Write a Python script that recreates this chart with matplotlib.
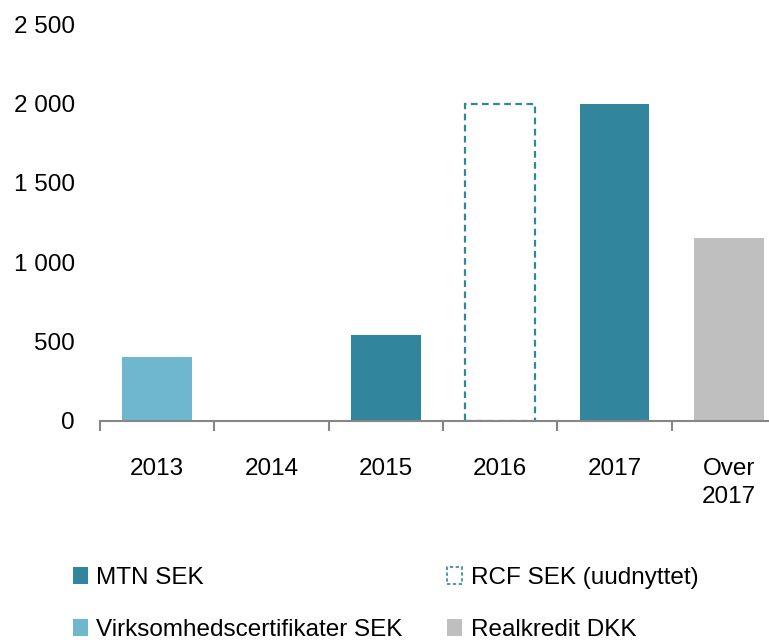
import matplotlib
matplotlib.use("Agg")
import matplotlib.pyplot as plt
from matplotlib.patches import Patch
from matplotlib.ticker import FuncFormatter

# ---------- DATA -----------------------------------------------------------
categories = ["2013", "2014", "2015", "2016", "2017", "Over\n2017"]
mtn_sek = [0, 0, 540, 0, 2000, 0]
rcf_sek = [0, 0, 0, 2000, 0, 0]          # unused facility, drawn as outline
virk_sek = [400, 0, 0, 0, 0, 0]
realkredit_dkk = [0, 0, 0, 0, 0, 1150]
yticks = [0, 500, 1000, 1500, 2000, 2500]

# ---------- STYLE ----------------------------------------------------------
C_MTN = "#31859C"
C_VIRK = "#6FB7CE"
C_REAL = "#BFBFBF"
C_AXIS = "#868686"
FS = 17.5
plt.rcParams["font.family"] = ["Liberation Sans", "DejaVu Sans"]


def nonzero(vals):
    """Only positions with a value, so empty bars leave no outline."""
    xs = [i for i, v in enumerate(vals) if v]
    return xs, [vals[i] for i in xs]


fig = plt.figure(figsize=(7.69, 6.44), dpi=100)
ax = fig.add_axes([100 / 769, 1 - 420.5 / 644, 686 / 769, 396 / 644])

w = 0.61
ax.bar(*nonzero(virk_sek), width=w, color=C_VIRK, zorder=2)
ax.bar(*nonzero(mtn_sek), width=w, color=C_MTN, zorder=2)
ax.bar(*nonzero(realkredit_dkk), width=w, color=C_REAL, zorder=2)
ax.bar(*nonzero(rcf_sek), width=w, facecolor="none", edgecolor=C_MTN,
       linewidth=1.6, linestyle=(0, (3, 2)), zorder=2)

x = list(range(len(categories)))
ax.set_xlim(-0.5, len(categories) - 0.5)
ax.set_ylim(0, 2500)
ax.set_yticks(yticks)
ax.yaxis.set_major_formatter(FuncFormatter(lambda v, p: f"{int(v):,}".replace(",", " ")))
ax.tick_params(axis="y", length=0, pad=18, labelsize=FS)

ax.set_xticks(x)
ax.set_xticklabels(categories, linespacing=1.35)
ax.set_xticks([i - 0.5 for i in range(len(categories) + 1)], minor=True)
ax.tick_params(axis="x", which="major", length=0, pad=27, labelsize=FS)
ax.tick_params(axis="x", which="minor", length=7, width=1.5, color=C_AXIS)

for s in ["left", "right", "top"]:
    ax.spines[s].set_visible(False)
ax.spines["bottom"].set_color(C_AXIS)
ax.spines["bottom"].set_linewidth(1.5)
ax.spines["bottom"].set_zorder(3)

handles = [
    Patch(facecolor=C_MTN, label="MTN SEK"),
    Patch(facecolor=C_VIRK, label="Virksomhedscertifikater SEK"),
    Patch(facecolor="white", edgecolor=C_MTN, linestyle=(0, (2, 1.5)),
          linewidth=1.2, label="RCF SEK (uudnyttet)"),
    Patch(facecolor=C_REAL, label="Realkredit DKK"),
]
fig.legend(handles=handles, ncol=2, loc="upper left",
           bbox_to_anchor=(73 / 769, 1 - 567 / 644), frameon=False,
           fontsize=FS, handlelength=0.6, handleheight=0.7,
           handletextpad=0.35, columnspacing=1.85, labelspacing=1.25,
           borderpad=0, borderaxespad=0)

fig.savefig("out.png", dpi=100)
